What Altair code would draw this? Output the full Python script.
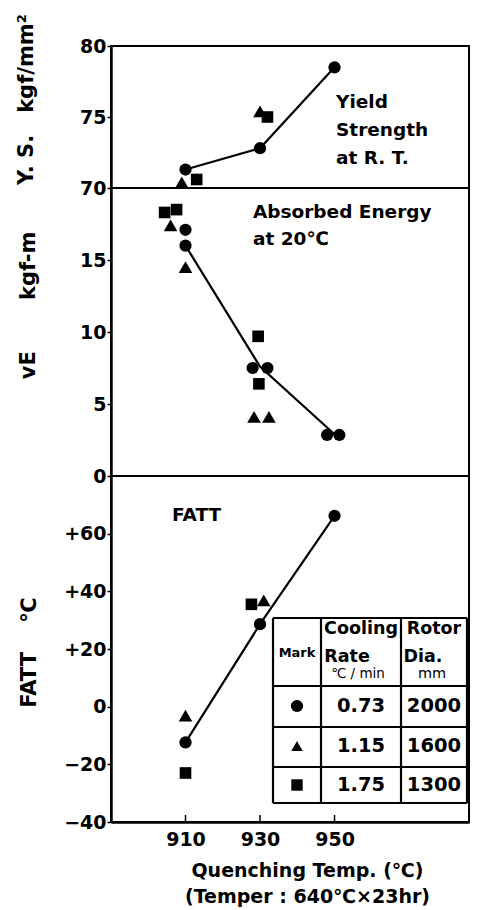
import altair as alt
import pandas as pd

FONT = "DejaVu Sans"

# ---------------- data ----------------
rate_labels = ["0.73", "1.15", "1.75"]
rotor_dia = ["2000", "1600", "1300"]
marker_shapes = ["circle", "triangle-up", "square"]
marker_sizes = [150, 185, 135]

# Yield strength (kgf/mm2)
ys_circle_t = [910, 930, 950]
ys_circle_v = [71.3, 72.8, 78.5]
ys_tri_t = [909, 930]
ys_tri_v = [70.4, 75.4]
ys_sq_t = [913, 932]
ys_sq_v = [70.6, 75.0]

# Absorbed energy vE (kgf-m)
ve_circle_t = [910, 910, 928, 932, 948, 951.3]
ve_circle_v = [17.1, 16.0, 7.5, 7.5, 2.85, 2.85]
ve_tri_t = [906, 910, 928.4, 932.4]
ve_tri_v = [17.4, 14.5, 4.1, 4.1]
ve_sq_t = [904.4, 907.6, 929.5, 929.7]
ve_sq_v = [18.3, 18.5, 9.7, 6.4]
ve_line_t = [910, 930, 950]
ve_line_v = [16.0, 7.6, 2.9]

# FATT (deg C)
fatt_circle_t = [910, 930, 950]
fatt_circle_v = [-12.4, 28.6, 66.2]
fatt_tri_t = [910, 931]
fatt_tri_v = [-3.1, 36.9]
fatt_sq_t = [910, 927.7]
fatt_sq_v = [-23.0, 35.5]

x_ticks = [910, 930, 950]
ys_ticks = [70, 75, 80]
ve_ticks = [0, 5, 10, 15]
fatt_ticks = [-40, -30, -20, -10, 0, 10, 20, 30, 40, 50, 60, 70]

# ---------------- layout ----------------
W = 358
H_TOP, H_MID, H_BOT = 142, 288, 346
XDOM = [890, 986.1]
NB = "\u00a0"

xscale = alt.Scale(domain=XDOM, nice=False, zero=False)


def yaxis(values, title, title_y, title_x, label_expr=None):
    kw = dict(values=values, title=title, titleX=title_x, titleY=title_y, titleAngle=270,
              titleAlign="center", titleBaseline="middle", titleFontSize=21,
              titleFontWeight="bold", titleFont=FONT, tickSize=4, labelPadding=1)
    if label_expr:
        kw["labelExpr"] = label_expr
    return alt.Axis(**kw)


def point_layers(series, clip=False):
    layers = []
    for (ts, vs), shp, sz in zip(series, marker_shapes, marker_sizes):
        df = pd.DataFrame({"temp": ts, "val": vs})
        layers.append(alt.Chart(df).mark_point(filled=True, color="black", opacity=1, shape=shp,
                                               size=sz, clip=clip).encode(x="temp:Q", y="val:Q"))
    return layers


def line_layer(ts, vs, ydom, axis_y, xaxis):
    df = pd.DataFrame({"temp": ts, "val": vs})
    return alt.Chart(df).mark_line(color="black", strokeWidth=2.2).encode(
        x=alt.X("temp:Q", scale=xscale, axis=xaxis),
        y=alt.Y("val:Q", scale=alt.Scale(domain=ydom, nice=False, zero=False), axis=axis_y))


def annot(rows):
    df = pd.DataFrame(rows, columns=["temp", "val", "text"])
    return alt.Chart(df).mark_text(align="left", baseline="middle", fontSize=18.5, fontWeight="bold",
                                   font=FONT, color="black").encode(x="temp:Q", y="val:Q", text="text:N")


# top panel
top = alt.layer(
    line_layer(ys_circle_t, ys_circle_v, [70, 80], yaxis(ys_ticks, f"Y. S.{NB*3}kgf/mm²", 53, -85), None),
    *point_layers([(ys_circle_t, ys_circle_v), (ys_tri_t, ys_tri_v), (ys_sq_t, ys_sq_v)], clip=True),
    annot([(950.4, 76.06, "Yield"), (950.4, 74.08, "Strength"), (950.4, 72.11, "at R. T.")]),
).properties(width=W, height=H_TOP)

# middle panel
mid = alt.layer(
    line_layer(ve_line_t, ve_line_v, [0, 20], yaxis(ve_ticks, f"vE{NB*7}kgf-m", 117, -83), None),
    *point_layers([(ve_circle_t, ve_circle_v), (ve_tri_t, ve_tri_v), (ve_sq_t, ve_sq_v)]),
    annot([(928.1, 18.33, "Absorbed Energy"), (928.1, 16.46, "at 20℃")]),
).properties(width=W, height=H_MID)

# bottom panel
fatt_expr = ("datum.value % 20 == 0 ? (datum.value > 0 ? '+' + datum.value : "
             "(datum.value < 0 ? '−' + abs(datum.value) : '0')) : ''")
xaxis = alt.Axis(values=x_ticks, tickSize=0, labelPadding=8, labelFontSize=19,
                 title=["Quenching Temp. (℃)", "(Temper : 640℃×23hr)"],
                 titleFontSize=19, titleFontWeight="bold", titleFont=FONT, titleLineHeight=26,
                 titleX=196, titleY=39, titleAlign="center", titleBaseline="top")

xtick_rules = alt.Chart(pd.DataFrame({"temp": x_ticks})).mark_rule(color="black", strokeWidth=1.5).encode(
    x="temp:Q", y=alt.value(H_BOT - 7), y2=alt.value(H_BOT))

# legend table (pixel positions inside the bottom panel)
TL, C1, C2, TR = 162, 210, 290, 356
TT, R0, R1, R2, TB = 142, 210, 251, 291, 327
segs = []
for yy in [TT, R0, R1, R2, TB]:
    segs.append({"x1": TL, "x2": TR, "y1": yy, "y2": yy})
for xx in [TL, C1, C2, TR]:
    segs.append({"x1": xx, "x2": xx, "y1": TT, "y2": TB})
tbl_lines = alt.Chart(pd.DataFrame(segs)).mark_rule(color="black", strokeWidth=2.2).encode(
    x=alt.X("x1:Q", scale=None, axis=None), x2="x2:Q",
    y=alt.Y("y1:Q", scale=None, axis=None), y2="y2:Q")

hdr_bold = pd.DataFrame([
    {"px": 186, "py": 177, "text": "Mark", "fs": 13},
    {"px": 250, "py": 153, "text": "Cooling", "fs": 17.5},
    {"px": 236, "py": 181, "text": "Rate", "fs": 17.5},
    {"px": 323, "py": 153, "text": "Rotor", "fs": 17.5},
    {"px": 312, "py": 181, "text": "Dia.", "fs": 17.5},
])
hdr_norm = pd.DataFrame([
    {"px": 247, "py": 198, "text": "℃ / min", "fs": 13.5},
    {"px": 321, "py": 198, "text": "mm", "fs": 14.5},
])
row_y = [230, 270, 309]
vals_rows = []
for r, d, yy in zip(rate_labels, rotor_dia, row_y):
    vals_rows.append({"px": 250, "py": yy, "text": r, "fs": 19.5})
    vals_rows.append({"px": 323, "py": yy, "text": d, "fs": 19.5})
vals_df = pd.DataFrame(vals_rows)


def tbl_text(df, weight):
    return alt.Chart(df).mark_text(align="center", baseline="middle", fontWeight=weight, font=FONT,
                                   color="black").encode(
        x=alt.X("px:Q", scale=None, axis=None), y=alt.Y("py:Q", scale=None, axis=None),
        text="text:N", size=alt.Size("fs:Q", scale=None, legend=None))


tbl_syms = []
for shp, sz, yy in zip(marker_shapes, [150, 130, 130], row_y):
    tbl_syms.append(alt.Chart(pd.DataFrame({"px": [186], "py": [yy]})).mark_point(
        filled=True, color="black", opacity=1, shape=shp, size=sz).encode(
        x=alt.X("px:Q", scale=None, axis=None), y=alt.Y("py:Q", scale=None, axis=None)))

bot = alt.layer(
    line_layer(fatt_circle_t, fatt_circle_v, [-40, 80], yaxis(fatt_ticks, f"FATT{NB*4}℃", 176, -82, fatt_expr), xaxis),
    *point_layers([(fatt_circle_t, fatt_circle_v), (fatt_tri_t, fatt_tri_v), (fatt_sq_t, fatt_sq_v)]),
    xtick_rules, annot([(906.4, 66.55, "FATT")]),
    tbl_lines, tbl_text(hdr_bold, "bold"), tbl_text(hdr_norm, "normal"), tbl_text(vals_df, "bold"),
    *tbl_syms,
).properties(width=W, height=H_BOT)

chart = alt.vconcat(top, mid, bot, spacing=0, bounds="flush").properties(
    padding={"left": 6, "top": 4, "right": 0, "bottom": 0}
).configure_view(stroke="black", strokeWidth=2).configure_axis(
    grid=False, domainColor="black", domainWidth=2.5, tickColor="black", tickWidth=1.5,
    labelFont=FONT, labelFontSize=19, labelFontWeight="bold", labelColor="black",
    titleColor="black"
).configure_text(font=FONT)

chart.save("out.html", embed_options={"renderer": "svg", "actions": False})
